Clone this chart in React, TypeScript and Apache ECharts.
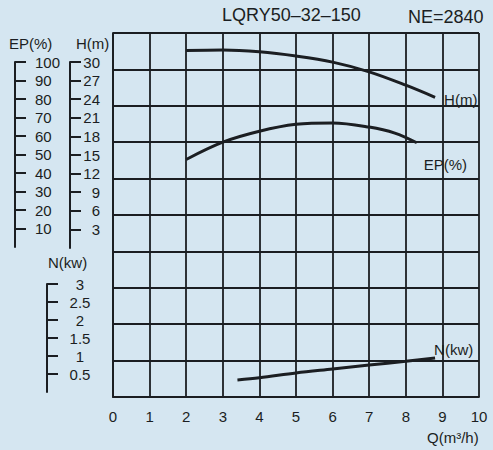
import React, { useEffect, useRef } from "react";
import * as echarts from "echarts";

// ---- data ----
const Q_TICKS = [0, 1, 2, 3, 4, 5, 6, 7, 8, 9, 10];
const EP_TICKS = [10, 20, 30, 40, 50, 60, 70, 80, 90, 100];
const H_TICKS = [3, 6, 9, 12, 15, 18, 21, 24, 27, 30];
const N_TICKS = [0.5, 1, 1.5, 2, 2.5, 3];

const Q_H = [2, 3, 4, 5, 6, 7, 8, 8.8];
const H_VALUES = [33.1, 33.2, 32.9, 32.2, 31.2, 29.6, 27.4, 25.4];

const Q_EP = [2, 3, 4, 5, 6, 7, 7.7, 8.3];
const EP_VALUES = [50.5, 60, 66, 69.8, 70.6, 68.3, 65, 59.7];

const Q_N = [3.4, 4, 5, 6, 7, 8, 8.8];
const N_VALUES = [0.47, 0.53, 0.66, 0.77, 0.88, 0.98, 1.07];

const TITLE = "LQRY50–32–150";
const SPEED = "NE=2840";

const INK = "#1b1e22";
const BG = "#d5e6f1";
const FONT = "'Liberation Sans', Arial, Helvetica, sans-serif";

export default function App() {
  const ref = useRef<HTMLDivElement>(null);

  useEffect(() => {
    if (!ref.current) return;
    const chart = echarts.init(ref.current, undefined, { renderer: "svg" });
    const gridLine = { color: INK, width: 1.8 };
    const hiddenX = (g: number) => ({ gridIndex: g, type: "value", min: 0, max: 1, show: false });
    const ruler = (g: number, min: number, max: number, ticks: number[], labelOpt: any) => ({
      gridIndex: g,
      type: "value",
      position: "left",
      min,
      max,
      axisLine: { show: true, lineStyle: { color: INK, width: 2 } },
      axisTick: { show: true, inside: true, length: 11, customValues: ticks, lineStyle: { color: INK, width: 2 } },
      splitLine: { show: false },
      axisLabel: {
        show: true,
        inside: true,
        customValues: ticks,
        fontSize: 15,
        color: INK,
        fontFamily: FONT,
        ...labelOpt,
      },
    });
    const lineSeries = (yIdx: number, qs: number[], vs: number[], name: string, offset: number[]) => ({
      type: "line",
      name,
      xAxisIndex: 0,
      yAxisIndex: yIdx,
      data: qs.map((q, i) => [q, vs[i]]),
      smooth: 0.35,
      showSymbol: false,
      symbol: "none",
      lineStyle: { color: INK, width: 3 },
      endLabel: {
        show: true,
        formatter: name,
        fontSize: 15,
        color: INK,
        fontFamily: FONT,
        distance: 5,
        offset,
      },
    });

    chart.setOption({
      animation: false,
      backgroundColor: BG,
      textStyle: { fontFamily: FONT },
      grid: [
        { left: 113, top: 33, width: 366, height: 364 },
        { left: 15, top: 62, width: 1, height: 185 },
        { left: 70, top: 62, width: 1, height: 186 },
        { left: 47, top: 284, width: 1, height: 108 },
      ],
      xAxis: [
        {
          gridIndex: 0,
          type: "value",
          min: 0,
          max: 10,
          interval: 1,
          axisLine: { show: true, onZero: false, lineStyle: gridLine },
          axisTick: { show: false },
          splitLine: { show: true, lineStyle: gridLine },
          axisLabel: {
            fontSize: 15,
            color: INK,
            margin: 12,
            fontFamily: FONT,
            customValues: Q_TICKS,
          },
        },
        hiddenX(1),
        hiddenX(2),
        hiddenX(3),
      ],
      yAxis: [
        {
          gridIndex: 0,
          type: "value",
          min: 0,
          max: 10,
          interval: 1,
          axisLine: { show: true, onZero: false, lineStyle: gridLine },
          axisTick: { show: false },
          axisLabel: { show: false },
          splitLine: { show: true, lineStyle: gridLine },
        },
        { gridIndex: 0, type: "value", min: -24, max: 36, show: false },
        { gridIndex: 0, type: "value", min: -80, max: 120, show: false },
        ruler(1, 0, 100, EP_TICKS, { margin: 20, align: "left" }),
        ruler(2, 0, 30, H_TICKS, { margin: 30, align: "right" }),
        ruler(3, 0, 3, N_TICKS, { margin: 33, align: "center" }),
      ],
      series: [
        lineSeries(1, Q_H, H_VALUES, "H(m)", [4, 2]),
        lineSeries(2, Q_EP, EP_VALUES, "EP(%)", [2, 22]),
        lineSeries(0, Q_N, N_VALUES, "N(kw)", [-6, -9]),
      ],
      graphic: [
        { type: "text", left: 222, top: 6, style: { text: TITLE, fontSize: 18, fill: INK, fontFamily: FONT } },
        { type: "text", left: 408, top: 8, style: { text: SPEED, fontSize: 18, fill: INK, fontFamily: FONT } },
        { type: "text", left: 9, top: 36, style: { text: "EP(%)", fontSize: 15, fill: INK, fontFamily: FONT } },
        { type: "text", left: 76, top: 36, style: { text: "H(m)", fontSize: 15, fill: INK, fontFamily: FONT } },
        { type: "text", left: 48, top: 255, style: { text: "N(kw)", fontSize: 15, fill: INK, fontFamily: FONT } },
        { type: "text", left: 427, top: 430, style: { text: "Q(m³/h)", fontSize: 15, fill: INK, fontFamily: FONT } },
      ],
    });
    return () => chart.dispose();
  }, []);

  return (
    <div
      ref={ref}
      style={{ position: "fixed", left: 0, top: 0, width: 493, height: 450 }}
    />
  );
}
